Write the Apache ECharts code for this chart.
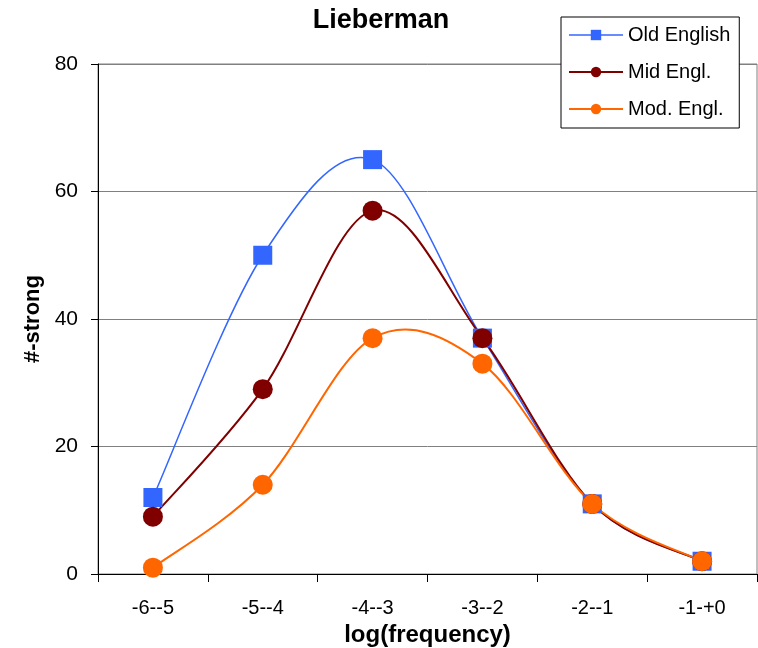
<!DOCTYPE html>
<html>
<head>
<meta charset="utf-8">
<script src="https://cdn.jsdelivr.net/npm/echarts@6/dist/echarts.min.js"></script>
<style>html,body{margin:0;padding:0;background:#fff}#c{width:758px;height:648px}</style>
</head>
<body>
<div id="c"></div>
<script>
var categories = ['-6--5', '-5--4', '-4--3', '-3--2', '-2--1', '-1-+0'];
var oldEnglish = [12, 50, 65, 37, 11, 2];
var midEngl = [9, 29, 57, 37, 11, 2];
var modEngl = [1, 14, 37, 33, 11, 2];
var yTicks = [0, 20, 40, 60, 80];

var FONT = '"Liberation Sans", Arial, sans-serif';
var COLORS = { old: '#3366FF', mid: '#800000', mod: '#FF6600' };

// Smooth curve (Catmull-Rom style Bezier, like the spreadsheet's smoothed line),
// drawn segment by segment through the chart's own coordinate system.
function curveSeries(id, values, color, width) {
  return {
    id: id,
    type: 'custom',
    z: 2,
    silent: true,
    data: values.map(function (v, i) { return [i, v]; }),
    encode: { x: 0, y: 1 },
    renderItem: function (params, api) {
      var i = params.dataIndex, n = values.length;
      if (i >= n - 1) return null;
      function p(k) { k = Math.max(0, Math.min(n - 1, k)); return api.coord([k, values[k]]); }
      var p0 = p(i - 1), p1 = p(i), p2 = p(i + 1), p3 = p(i + 2);
      return {
        type: 'bezierCurve',
        shape: {
          x1: p1[0], y1: p1[1], x2: p2[0], y2: p2[1],
          cpx1: p1[0] + (p2[0] - p0[0]) / 6, cpy1: p1[1] + (p2[1] - p0[1]) / 6,
          cpx2: p2[0] - (p3[0] - p1[0]) / 6, cpy2: p2[1] - (p3[1] - p1[1]) / 6
        },
        style: { stroke: color, lineWidth: width, fill: null }
      };
    }
  };
}

var chart = echarts.init(document.getElementById('c'));
chart.setOption({
  animation: false,
  backgroundColor: '#fff',
  title: {
    text: 'Lieberman',
    left: 376, top: 2, textAlign: 'center',
    textStyle: { fontFamily: FONT, fontSize: 27, fontWeight: 'bold', color: '#000' }
  },
  legend: {
    orient: 'vertical',
    left: 561, top: 17,
    padding: [8, 9, 9, 7],
    itemWidth: 54, itemHeight: 13, itemGap: 17,
    borderColor: '#000', borderWidth: 1,
    backgroundColor: '#fff',
    textStyle: { fontFamily: FONT, fontSize: 20, color: '#000' },
    data: [
      { name: 'Old English', lineStyle: { color: COLORS.old, width: 1.5, opacity: 1 } },
      { name: 'Mid Engl.', lineStyle: { color: COLORS.mid, width: 2, opacity: 1 } },
      { name: 'Mod. Engl.', lineStyle: { color: COLORS.mod, width: 2, opacity: 1 } }
    ]
  },
  grid: {
    left: 98, right: 1, top: 64, bottom: 74,
    outerBoundsMode: 'none',
    containLabel: false,
    show: true, borderColor: '#808080', borderWidth: 1
  },
  xAxis: {
    type: 'category',
    data: categories,
    boundaryGap: true,
    name: 'log(frequency)',
    nameLocation: 'middle',
    nameGap: 45,
    nameTextStyle: { fontFamily: FONT, fontSize: 24, fontWeight: 'bold', color: '#000' },
    axisLine: { lineStyle: { color: '#000', width: 1 } },
    axisTick: { show: true, length: 8, alignWithLabel: false, lineStyle: { color: '#000' } },
    axisLabel: { fontFamily: FONT, fontSize: 20, color: '#000', margin: 24 },
    splitLine: { show: false }
  },
  yAxis: {
    type: 'value',
    min: 0, max: 80, interval: 20,
    name: '#-strong',
    nameLocation: 'middle',
    nameGap: 54,
    nameRotate: 90,
    nameTextStyle: { fontFamily: FONT, fontSize: 22, fontWeight: 'bold', color: '#000' },
    axisLine: { show: true, lineStyle: { color: '#000', width: 1 } },
    axisTick: { show: true, length: 7, lineStyle: { color: '#000' } },
    axisLabel: {
      fontFamily: FONT, fontSize: 21, color: '#000', margin: 20,
      formatter: function (v) { return yTicks.indexOf(v) >= 0 ? String(v) : ''; }
    },
    splitLine: { show: true, lineStyle: { color: '#808080', width: 1 } }
  },
  series: [
    curveSeries('oldCurve', oldEnglish, COLORS.old, 1.5),
    curveSeries('midCurve', midEngl, COLORS.mid, 2),
    curveSeries('modCurve', modEngl, COLORS.mod, 2),
    {
      name: 'Old English', type: 'line', data: oldEnglish, z: 3,
      symbol: 'rect', symbolSize: 19,
      itemStyle: { color: COLORS.old },
      lineStyle: { color: COLORS.old, width: 0, opacity: 0 }
    },
    {
      name: 'Mid Engl.', type: 'line', data: midEngl, z: 4,
      symbol: 'circle', symbolSize: 20,
      itemStyle: { color: COLORS.mid },
      lineStyle: { color: COLORS.mid, width: 0, opacity: 0 }
    },
    {
      name: 'Mod. Engl.', type: 'line', data: modEngl, z: 5,
      symbol: 'circle', symbolSize: 20,
      itemStyle: { color: COLORS.mod },
      lineStyle: { color: COLORS.mod, width: 0, opacity: 0 }
    }
  ]
});
</script>
</body>
</html>
